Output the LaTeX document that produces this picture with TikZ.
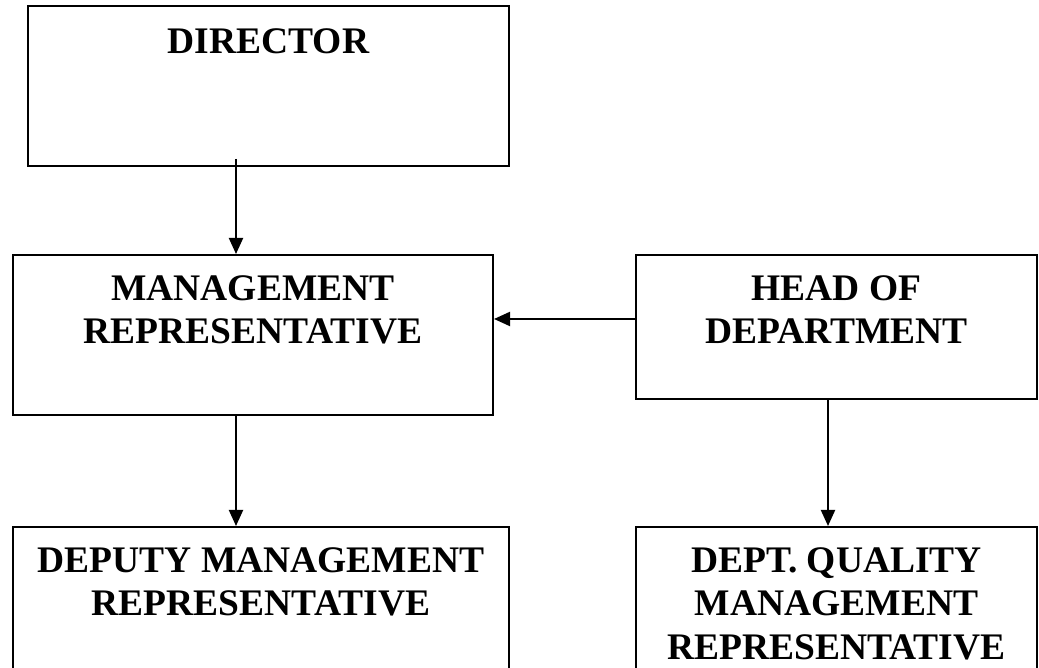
\documentclass[tikz,border=0pt]{standalone}
\usepackage{fontspec}
\setmainfont{Liberation Serif}
\usetikzlibrary{arrows.meta,calc}
\tikzset{
  box/.style={draw=black, line width=2pt, fill=none, inner sep=0pt, anchor=north west},
  lbl/.style={inner sep=0pt, anchor=north, align=center,
    font=\fontsize{37.5}{43.5}\selectfont\bfseries},
  arr/.style={line width=2pt, -{Triangle[length=16pt,width=14pt]}}
}
\begin{document}
\begin{tikzpicture}[x=1pt,y=1pt]
\useasboundingbox (0,0) rectangle (1039,668);
\clip (0,0) rectangle (1039,668);
\node[box, minimum width=481pt, minimum height=160pt] (dir) at (27,663) {};
\node[box, minimum width=480pt, minimum height=160pt] (mgmt) at (12,414) {};
\node[box, minimum width=401pt, minimum height=144pt] (head) at (635,414) {};
\node[box, minimum width=496pt, minimum height=160pt] (dep) at (12,142) {};
\node[box, minimum width=401pt, minimum height=160pt] (dqm) at (635,142) {};

\node[lbl] (tdir) at (dir.north |- 0,640) {DIRECTOR};
\node[lbl] (tmgmt) at (mgmt.north |- 0,393) {MANAGEMENT\\REPRESENTATIVE};
\node[lbl] (thead) at (head.north |- 0,393) {HEAD OF\\DEPARTMENT};
\node[lbl] (tdep) at (dep.north |- 0,121) {DEPUTY MANAGEMENT\\REPRESENTATIVE};
\node[lbl] (tdqm) at (dqm.north |- 0,121) {DEPT. QUALITY\\MANAGEMENT\\REPRESENTATIVE};

\coordinate (c1) at ($(dir.south west)+(209,8)$);
\draw[arr] (c1) -- (c1 |- mgmt.north);
\coordinate (c2) at ($(head.west)+(0,8)$);
\draw[arr] (c2) -- (c2 -| mgmt.east);
\coordinate (c3) at (c1 |- mgmt.south);
\draw[arr] (c3) -- (c3 |- dep.north);
\coordinate (c4) at ($(head.south west)+(193,0)$);
\draw[arr] (c4) -- (c4 |- dqm.north);
\end{tikzpicture}
\end{document}
